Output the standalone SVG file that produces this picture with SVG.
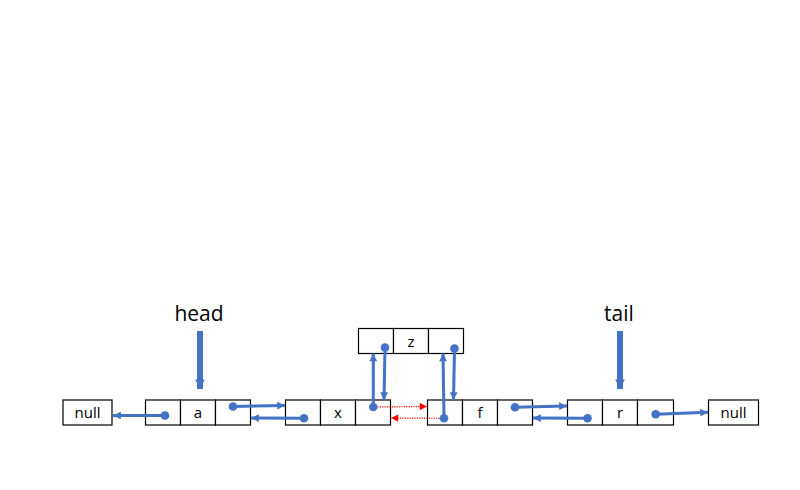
<svg xmlns="http://www.w3.org/2000/svg" width="800" height="490" viewBox="0 0 800 490">
<style>
.box{fill:#fff;stroke:#000;stroke-width:1.2}
.t{font-family:"Open Sans","Liberation Sans",sans-serif;font-size:15px;fill:#000;text-anchor:middle}
.lbl{font-family:"Open Sans","Liberation Sans",sans-serif;font-size:21px;fill:#000;text-anchor:middle}
.c{stroke:#4472C4;stroke-width:3;fill:none;marker-end:url(#ah)}
.p{stroke:#4472C4;stroke-width:6;fill:none;marker-end:url(#ahb)}
.r{stroke:#FF0000;stroke-width:1.2;stroke-dasharray:1.2 1.2;fill:none;marker-end:url(#ar)}
.d{fill:#4472C4}
</style>
<defs>
<marker id="ah" viewBox="0 0 10 10" refX="10" refY="5" markerWidth="3" markerHeight="2.6" orient="auto" markerUnits="strokeWidth">
<path d="M0,0 L10,5 L0,10 z" fill="#4472C4"/>
</marker>
<marker id="ahb" viewBox="0 0 10 10" refX="10" refY="5" markerWidth="1.6" markerHeight="1.6" orient="auto" markerUnits="strokeWidth">
<path d="M0,0 L10,5 L0,10 z" fill="#4472C4"/>
</marker>
<marker id="ar" viewBox="0 0 10 10" refX="10" refY="5" markerWidth="7" markerHeight="6" orient="auto" markerUnits="strokeWidth">
<path d="M0,0 L10,5 L0,10 z" fill="#FF0000"/>
</marker>
</defs>
<rect width="800" height="490" fill="#fff"/>
<g id="null-left">
<rect class="box" x="63" y="400" width="49" height="25"/>
<text class="t" x="87.5" y="418">null</text>
</g>
<g id="node-a">
<rect class="box" x="145.5" y="400" width="35" height="25"/>
<rect class="box" x="180.5" y="400" width="35" height="25"/>
<rect class="box" x="215.5" y="400" width="35" height="25"/>
<text class="t" x="198" y="418">a</text>
</g>
<g id="node-x">
<rect class="box" x="285.5" y="400" width="35" height="25"/>
<rect class="box" x="320.5" y="400" width="35" height="25"/>
<rect class="box" x="355.5" y="400" width="35" height="25"/>
<text class="t" x="338" y="418">x</text>
</g>
<g id="node-z">
<rect class="box" x="358.5" y="328.5" width="35" height="25"/>
<rect class="box" x="393.5" y="328.5" width="35" height="25"/>
<rect class="box" x="428.5" y="328.5" width="35" height="25"/>
<text class="t" x="411" y="346.5">z</text>
</g>
<g id="node-f">
<rect class="box" x="427.5" y="400" width="35" height="25"/>
<rect class="box" x="462.5" y="400" width="35" height="25"/>
<rect class="box" x="497.5" y="400" width="35" height="25"/>
<text class="t" x="480" y="418">f</text>
</g>
<g id="node-r">
<rect class="box" x="567.5" y="400" width="35" height="25"/>
<rect class="box" x="602.5" y="400" width="35" height="25"/>
<rect class="box" x="637.5" y="400" width="36" height="25"/>
<text class="t" x="620" y="418">r</text>
</g>
<g id="null-right">
<rect class="box" x="708.5" y="400" width="50" height="25"/>
<text class="t" x="733.5" y="418">null</text>
</g>
<g id="label-head">
<text class="lbl" x="199" y="321">head</text>
</g>
<g id="label-tail">
<text class="lbl" x="619" y="321">tail</text>
</g>
<g id="connectors">
<path class="p" d="M200,331 V389"/>
<path class="p" d="M620,331 V389"/>
<path class="c" d="M165,415.5 L113,415.5"/>
<path class="c" d="M233,406.5 L285,405.5"/>
<path class="c" d="M304,418.3 L251,418"/>
<path class="c" d="M373.3,407 L373.3,353.5"/>
<path class="c" d="M385,347.5 L384,400"/>
<path class="c" d="M444,418.3 L443,353.5"/>
<path class="c" d="M454.5,348.5 L453.5,400"/>
<path class="c" d="M515,407.3 L567,406"/>
<path class="c" d="M587.5,418.3 L533,418"/>
<path class="c" d="M655.7,414.3 L708,412.3"/>
<path class="r" d="M375,407 L427,406.5"/>
<path class="r" d="M442,418.3 L391,418"/>
<circle class="d" cx="165" cy="415.5" r="4.3"/>
<circle class="d" cx="233" cy="406.5" r="4.3"/>
<circle class="d" cx="304" cy="418.3" r="4.3"/>
<circle class="d" cx="373.3" cy="407" r="4.3"/>
<circle class="d" cx="385" cy="347.5" r="4.3"/>
<circle class="d" cx="444" cy="418.3" r="4.3"/>
<circle class="d" cx="454.5" cy="348.5" r="4.3"/>
<circle class="d" cx="515" cy="407.3" r="4.3"/>
<circle class="d" cx="587.5" cy="418.3" r="4.3"/>
<circle class="d" cx="655.7" cy="414.3" r="4.3"/>
</g>
</svg>
